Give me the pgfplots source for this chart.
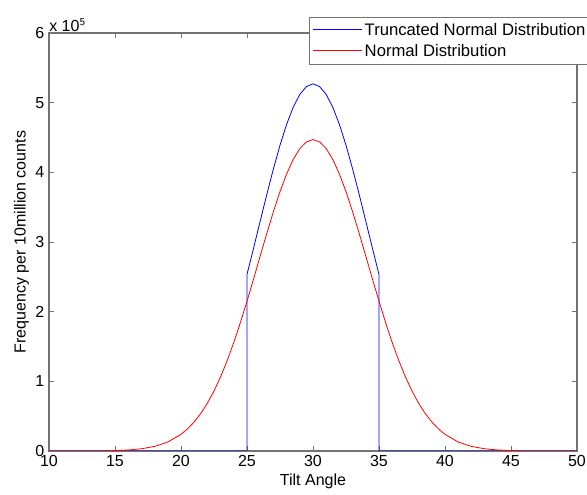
\documentclass[border=0pt]{standalone}
\usepackage{fontspec}
\setmainfont{Liberation Sans}
\usepackage{pgfplots}
\pgfplotsset{compat=1.18}
\begin{document}
\begin{tikzpicture}
\begin{axis}[
  scale only axis,
  width=396pt, height=313.5pt,
  xmin=10, xmax=50, ymin=0, ymax=600000,
  xtick={10,15,...,50},
  ytick={0,100000,...,600000},
  scaled y ticks=base 10:-5,
  every y tick scale label/.style={at={(rel axis cs:0,1)},anchor=south west,inner sep=1pt,xshift=-1pt},
  ytick scale label code/.code={x 10$^{\mathsf{5}}$},
  /pgf/number format/assume math mode=true,
  tick align=inside,
  major tick length=4pt,
  axis line style={gray!90!black, line width=0.8pt},
  tick style={gray!90!black, line width=0.6pt},
  tick label style={font=\fontsize{12}{14}\selectfont},
  label style={font=\fontsize{12}{14}\selectfont},
  xlabel={Tilt Angle},
  ylabel={Frequency per 10million counts},
  xlabel style={yshift=2pt},
  ylabel style={yshift=-2pt},
  legend style={at={(rel axis cs:0.4924,1.038)},anchor=north west,
    draw=gray!90!black, line width=0.6pt, font=\fontsize{12.5}{15}\selectfont,
    inner sep=2.5pt, row sep=1pt, fill=white},
  legend cell align=left,
]
\addplot[blue, line width=0.6pt,
  legend image code/.code={\node[inner sep=0pt,anchor=west] at (0pt,0pt)
    {\textcolor{blue}{\rule[-0.3pt]{37pt}{0.6pt}}};}]
  coordinates {
(10,0) (25,0) (25,253500) (25.5,291300) (26,329900) (26.5,368200) (27,404900)
(27.5,438900) (28,468800) (28.5,493400) (29,511800) (29.5,523100) (30,527000)
(30.5,523100) (31,511800) (31.5,493400) (32,468800) (32.5,438900) (33,404900)
(33.5,368200) (34,329900) (34.5,291300) (35,253500) (35,0) (50,0)};
\addlegendentry{Truncated Normal Distribution}
\addplot[red, line width=0.6pt,
  legend image code/.code={\node[inner sep=0pt,anchor=west] at (0pt,0pt)
    {\textcolor{red}{\rule[-0.3pt]{37pt}{0.6pt}}};}]
  coordinates {
(10,0) (14,0) (15,620) (16,1440) (17,3200) (18,6600) (19,12900) (20,23900)
(20.5,31800) (21,41700) (21.5,53900) (22,68600) (22.5,86100) (23,106500)
(23.5,129800) (24,155800) (24.5,184400) (25,215000) (25.5,247100) (26,279800)
(26.5,312300) (27,343500) (27.5,372300) (28,397600) (28.5,418500) (29,434100)
(29.5,443700) (30,447000) (30.5,443700) (31,434100) (31.5,418500) (32,397600)
(32.5,372300) (33,343500) (33.5,312300) (34,279800) (34.5,247100) (35,215000)
(35.5,184400) (36,155800) (36.5,129800) (37,106500) (37.5,86100) (38,68600)
(38.5,53900) (39,41700) (39.5,31800) (40,23900) (41,12900) (42,6600) (43,3200)
(44,1440) (45,620) (46,0) (50,0)};
\addlegendentry{Normal Distribution}
\end{axis}
\pgfresetboundingbox
\path[use as bounding box] (-36.75pt,-33pt) rectangle (403.5pt,338.25pt);
\end{tikzpicture}
\end{document}
